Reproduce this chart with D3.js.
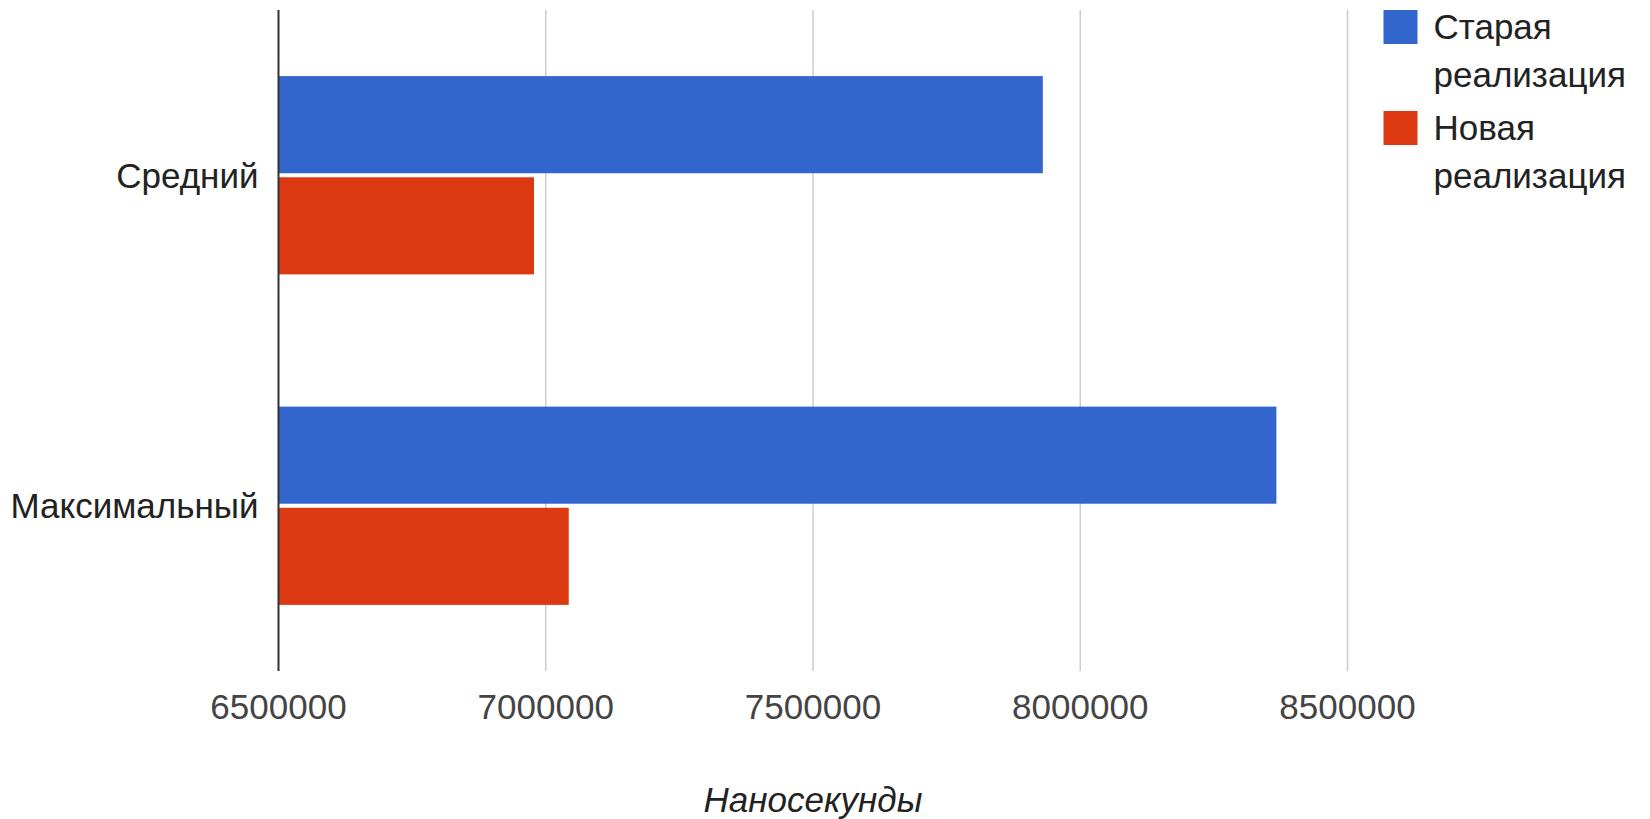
<!DOCTYPE html>
<html>
<head>
<meta charset="utf-8">
<script src="https://cdn.jsdelivr.net/npm/d3@7"></script>
<style>
  body { margin: 0; background: white; }
  text { font-family: Arial, "Liberation Sans", sans-serif; }
</style>
</head>
<body>
<div id="div1"></div>
<script>
// Data
const categories = ["Средний", "Максимальный"];
const seriesNames = ["Старая реализация", "Новая реализация"];
const oldValues = [7930000, 8367000];
const newValues = [6978000, 7043000];
const tickValues = [6500000, 7000000, 7500000, 8000000, 8500000];
const colors = ["#3366cc", "#dc3912"];

// Chart dimensions
const width = 1650;
const height = 819;
const plotLeft = 278.5, plotRight = 1347.5, plotTop = 10, plotBottom = 671;

const svg = d3.select("#div1").append("svg")
    .attr("width", width)
    .attr("height", height);

const x = d3.scaleLinear()
    .domain([6500000, 8500000])
    .range([plotLeft, plotRight]);

const y = d3.scaleBand()
    .domain(categories)
    .range([plotTop, plotBottom])
    .paddingInner(0.4)
    .paddingOuter(0.2);

const ySub = d3.scaleBand()
    .domain(seriesNames)
    .range([0, y.bandwidth()])
    .paddingInner(0.04);

// Gridlines
svg.append("g")
  .selectAll("line")
  .data(tickValues.slice(1))
  .join("line")
    .attr("x1", d => x(d)).attr("x2", d => x(d))
    .attr("y1", plotTop).attr("y2", plotBottom)
    .attr("stroke", "#cccccc")
    .attr("stroke-width", 1.5);

// Bars
const rows = categories.map((c, i) => ({ cat: c, vals: [oldValues[i], newValues[i]] }));
const groups = svg.append("g")
  .selectAll("g")
  .data(rows)
  .join("g")
    .attr("transform", d => `translate(0,${y(d.cat)})`);

groups.selectAll("rect")
  .data(d => d.vals.map((v, j) => ({ v, j })))
  .join("rect")
    .attr("x", x(6500000))
    .attr("y", d => ySub(seriesNames[d.j]))
    .attr("width", d => x(d.v) - x(6500000))
    .attr("height", ySub.bandwidth())
    .attr("fill", d => colors[d.j]);

// Baseline
svg.append("line")
    .attr("x1", plotLeft).attr("x2", plotLeft)
    .attr("y1", plotTop).attr("y2", plotBottom)
    .attr("stroke", "#333333")
    .attr("stroke-width", 2);

// X tick labels
svg.append("g")
  .selectAll("text")
  .data(tickValues)
  .join("text")
    .attr("x", d => x(d))
    .attr("y", 707)
    .attr("dy", "0.35em")
    .attr("text-anchor", "middle")
    .attr("font-size", "35px")
    .attr("fill", "#444444")
    .text(d => d3.format("d")(d));

// Category labels
svg.append("g")
  .selectAll("text")
  .data(categories)
  .join("text")
    .attr("x", plotLeft - 20)
    .attr("y", d => y(d) + y.bandwidth() / 2)
    .attr("dy", "0.35em")
    .attr("text-anchor", "end")
    .attr("font-size", "35px")
    .attr("fill", "#222222")
    .text(d => d);

// Axis title
svg.append("text")
    .attr("x", (plotLeft + plotRight) / 2)
    .attr("y", 800)
    .attr("dy", "0.35em")
    .attr("text-anchor", "middle")
    .attr("font-size", "35px")
    .attr("font-style", "italic")
    .attr("fill", "#222222")
    .text("Наносекунды");

// Legend
const legend = svg.append("g")
  .selectAll("g")
  .data(seriesNames)
  .join("g")
    .attr("transform", (d, i) => `translate(1383.5,${10 + i * 101})`);

legend.append("rect")
    .attr("width", 34)
    .attr("height", 34)
    .attr("fill", (d, i) => colors[i]);

legend.append("text")
    .attr("x", 50)
    .attr("font-size", "35px")
    .attr("fill", "#222222")
  .selectAll("tspan")
  .data(d => d.split(" "))
  .join("tspan")
    .attr("x", 50)
    .attr("y", (d, k) => 17 + k * 48)
    .attr("dy", "0.35em")
    .text(d => d);
</script>
</body>
</html>
